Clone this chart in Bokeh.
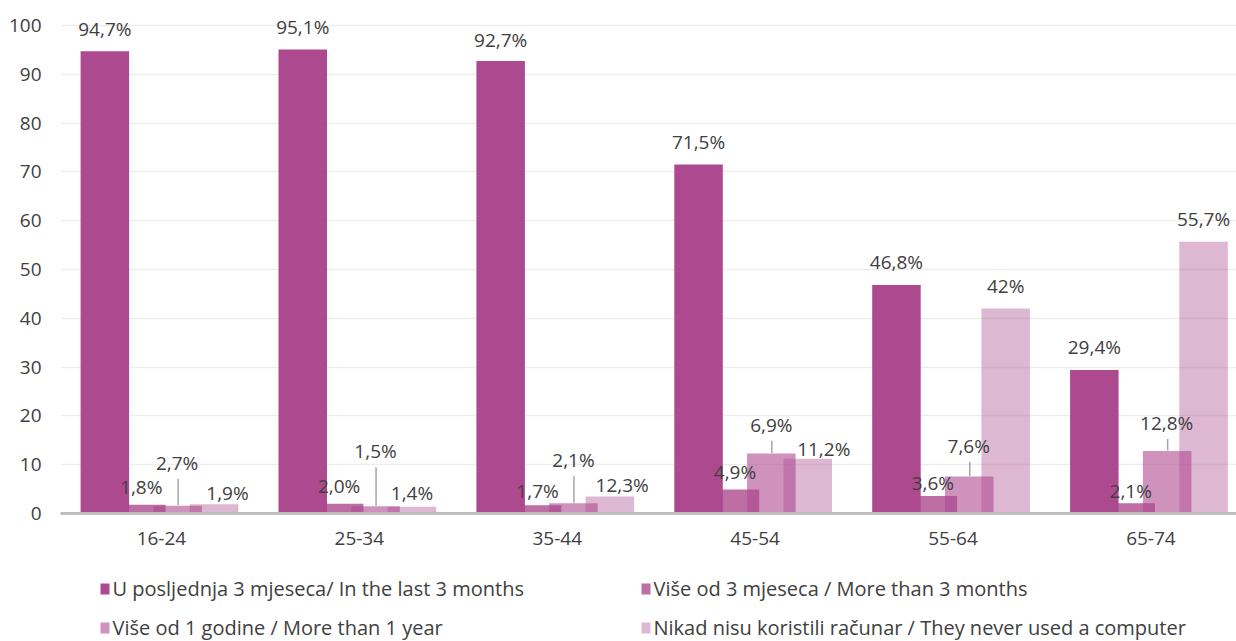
from bokeh.plotting import figure
from bokeh.models import Range1d, FixedTicker
from bokeh.layouts import column
from bokeh.embed import file_html
from bokeh.resources import INLINE
from bokeh.core.properties import value

# ---------------- data ----------------
categories = ["16-24", "25-34", "35-44", "45-54", "55-64", "65-74"]
series_names = [
    "U posljednja 3 mjeseca/ In the last 3 months",
    "Više od 3 mjeseca / More than 3 months",
    "Više od 1 godine / More than 1 year",
    "Nikad nisu koristili računar / They never used a computer",
]
last_3_months = [94.7, 95.1, 92.7, 71.5, 46.8, 29.4]
more_than_3_months = [1.8, 2.0, 1.7, 4.9, 3.6, 2.1]
more_than_1_year = [1.6, 1.5, 2.1, 12.3, 7.6, 12.8]
never_used = [1.9, 1.4, 3.5, 11.2, 42.0, 55.7]

labels_last_3_months = ["94,7%", "95,1%", "92,7%", "71,5%", "46,8%", "29,4%"]
labels_more_than_3_months = ["1,8%", "2,0%", "1,7%", "4,9%", "3,6%", "2,1%"]
labels_more_than_1_year = ["2,7%", "1,5%", "2,1%", "6,9%", "7,6%", "12,8%"]
labels_never_used = ["1,9%", "1,4%", "12,3%", "11,2%", "42%", "55,7%"]

y_ticks = [0, 10, 20, 30, 40, 50, 60, 70, 80, 90, 100]

# ---------------- layout / style ----------------
W = 1236
H_MAIN = 560
H_LEG = 81
LEFT = 60
BOTTOM = 47
PX_X = 197.9      # px per category
PX_Y = 4.88       # px per percent
FRAME_W = W - LEFT
FRAME_H = H_MAIN - BOTTOM
BAR_W = 48.5 / PX_X
STEP = 36.4 / PX_X
BASE = "#AD4A8F"
ALPHAS = [1.0, 0.8, 0.6, 0.4]
FONT = "Open Sans"
TXT = "#404040"

# label placement offsets in px (dx right, dy = label centre above bar top)
label_dx = [
    [0, 0, 0, 0, 0, 0],
    [0, 0, 0.5, 0, 0, 0],
    [-0.5, 0, 0, 0, -0.5, -0.5],
    [13.4, 0, 12.3, 16, 0, 0],
]
label_dy = [
    [22, 22, 21.5, 23, 23.5, 23],
    [18, 18, 14, 17.5, 12.7, 12],
    [43, 55, 43, 28.7, 30.6, 28.2],
    [11.7, 13.5, 11, 10, 22.7, 23],
]
leader_series = 2  # series whose labels are connected with a leader line

# legend layout (page px)
LEG_COL_X = [100, 641]
LEG_ROW_Y = [588, 627]

series_values = [last_3_months, more_than_3_months, more_than_1_year, never_used]
series_labels = [labels_last_3_months, labels_more_than_3_months,
                 labels_more_than_1_year, labels_never_used]

p = figure(width=W, height=H_MAIN,
           min_border_left=LEFT, min_border_right=0, min_border_top=0,
           min_border_bottom=BOTTOM,
           x_range=Range1d(0, FRAME_W / PX_X), y_range=Range1d(0, FRAME_H / PX_Y),
           output_backend="svg", toolbar_location=None)
p.outline_line_color = None
p.background_fill_color = "white"
p.border_fill_color = "white"

p.xgrid.visible = False
p.ygrid.grid_line_color = "#EDEDED"
p.ygrid.grid_line_width = 1.5
p.yaxis.ticker = FixedTicker(ticks=y_ticks)
p.yaxis.axis_line_color = None
p.yaxis.major_tick_line_color = None
p.yaxis.minor_tick_line_color = None
p.yaxis.major_tick_out = 0
p.yaxis.major_tick_in = 0
p.yaxis.major_label_standoff = 19
p.yaxis.major_label_text_font = FONT
p.yaxis.major_label_text_font_size = "19px"
p.yaxis.major_label_text_color = TXT

centers = [i + 0.5 for i in range(len(categories))]
tick_pos = [c + 0.01 for c in centers]
p.xaxis.ticker = FixedTicker(ticks=tick_pos)
p.xaxis.major_label_overrides = {t: c for t, c in zip(tick_pos, categories)}
p.xaxis.axis_line_color = "#BFBFBF"
p.xaxis.axis_line_width = 3
p.xaxis.major_tick_line_color = None
p.xaxis.minor_tick_line_color = None
p.xaxis.major_tick_out = 0
p.xaxis.major_tick_in = 0
p.xaxis.major_label_standoff = 18
p.xaxis.major_label_text_font = FONT
p.xaxis.major_label_text_font_size = "19px"
p.xaxis.major_label_text_color = TXT

renderers = [None] * 4
for s in [3, 2, 1, 0]:
    xs = [c + (s - 1.5) * STEP for c in centers]
    renderers[s] = p.vbar(x=xs, top=series_values[s], width=BAR_W, bottom=0,
                          fill_color=BASE, fill_alpha=ALPHAS[s], line_color=None)

for s in range(4):
    xs = [c + (s - 1.5) * STEP for c in centers]
    lx = [x + dx / PX_X for x, dx in zip(xs, label_dx[s])]
    ly = [v + dy / PX_Y for v, dy in zip(series_values[s], label_dy[s])]
    p.text(x=lx, y=ly, text=series_labels[s], text_align="center",
           text_baseline="middle", text_font=value(FONT),
           text_font_size="19px", text_color=TXT)
    if s == leader_series:
        y0 = [v + 0.5 / PX_Y for v in series_values[s]]
        y1 = [y - 16 / PX_Y for y in ly]
        x0 = [x + 0.5 / PX_X for x in xs]
        p.segment(x0=x0, y0=y0, x1=x0, y1=y1, line_color="#A6A6A6", line_width=1.5)

# ---------------- legend (separate strip below the chart) ----------------
leg = figure(width=W, height=H_LEG, x_range=Range1d(LEFT, W),
             y_range=Range1d(H_MAIN + H_LEG, H_MAIN),
             x_axis_type=None, y_axis_type=None,
             min_border_left=LEFT, min_border_right=0, min_border_top=0, min_border_bottom=0,
             output_backend="svg", toolbar_location=None)
leg.outline_line_color = None
leg.xgrid.visible = False
leg.ygrid.visible = False
for s in range(4):
    cx = LEG_COL_X[s % 2]
    cy = LEG_ROW_Y[s // 2]
    leg.rect(x=[cx + 4.5], y=[cy + 0.5], width=9, height=11,
             fill_color=BASE, fill_alpha=ALPHAS[s], line_color=None)
    leg.text(x=[cx + 12], y=[cy], text=[series_names[s]], text_align="left",
             text_baseline="middle", text_font=value(FONT),
             text_font_size="20px", text_color=TXT)

open("out.html", "w").write(file_html(column(p, leg, spacing=0), INLINE))
